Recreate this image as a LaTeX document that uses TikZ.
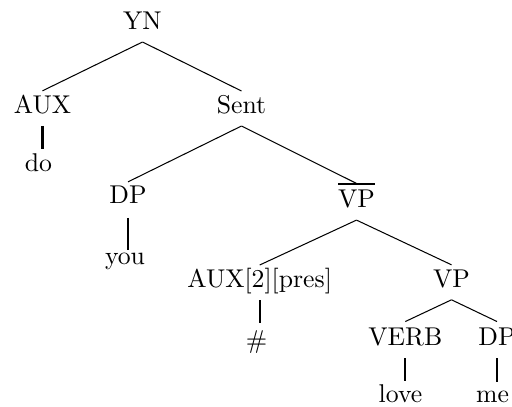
\documentclass[tikz,border=0pt]{standalone}
\usetikzlibrary{calc}
\begin{document}
\begin{tikzpicture}[x=0.389pt,y=-0.389pt,
  lbl/.style={anchor=base,inner sep=0pt,outer sep=0pt,text depth=4.86pt,text height=8.75pt},
  term/.style={anchor=base,inner sep=0pt,outer sep=0pt},
  edge/.style={line width=0.4pt},
  vedge/.style={line width=0.8pt}]
\useasboundingbox (0,0) rectangle (512,406);
\node[lbl] (YN) at (142.5,29.5) {YN};
\node[lbl] (AUX) at (42.5,113.3) {AUX};
\node[term,text height=8.75pt] (do) at (38.5,171.5) {do};
\node[lbl] (Sent) at (241.5,113.5) {Sent};
\node[lbl,text height=8.3pt,text depth=5.7pt] (DP) at (128,203.2) {DP};
\node[term,text height=5.45pt] (you) at (125,264) {you};
\node[lbl,text height=9.4pt] (VPb) at (356.5,207.6) {\vbox{\hrule height 0.9pt\kern 1.8pt\hbox{VP}}};
\node[lbl] (AUXp) at (259.7,287.5) {AUX[2][pres]};
\node[term,text height=9.6pt] (hash) at (256.7,348) {\#};
\node[lbl] (VP) at (451.5,287.3) {VP};
\node[lbl,text height=9.4pt] (VERB) at (405.3,345.7) {VERB};
\node[lbl,text height=9.4pt] (DPb) at (497,345.7) {DP};
\node[term,text height=8.17pt] (love) at (400.5,402) {love};
\node[term,text height=7.9pt] (me) at (492.5,402) {me};
\draw[edge] (YN.south) -- (AUX.north);
\draw[edge] (YN.south) -- (Sent.north);
\draw[vedge] (AUX.south) -- (AUX.south |- do.north);
\draw[edge] (Sent.south) -- (DP.north);
\draw[edge] (Sent.south) -- (VPb.north);
\draw[vedge] (DP.south) -- (DP.south |- you.north);
\draw[edge] (VPb.south) -- (AUXp.north);
\draw[edge] (VPb.south) -- (VP.north);
\draw[vedge] (AUXp.south) -- (AUXp.south |- hash.north);
\draw[edge] (VP.south) -- (VERB.north);
\draw[edge] (VP.south) -- (DPb.north);
\draw[vedge] (VERB.south) -- (VERB.south |- love.north);
\draw[vedge] (DPb.south) -- (DPb.south |- me.north);
\end{tikzpicture}
\end{document}
